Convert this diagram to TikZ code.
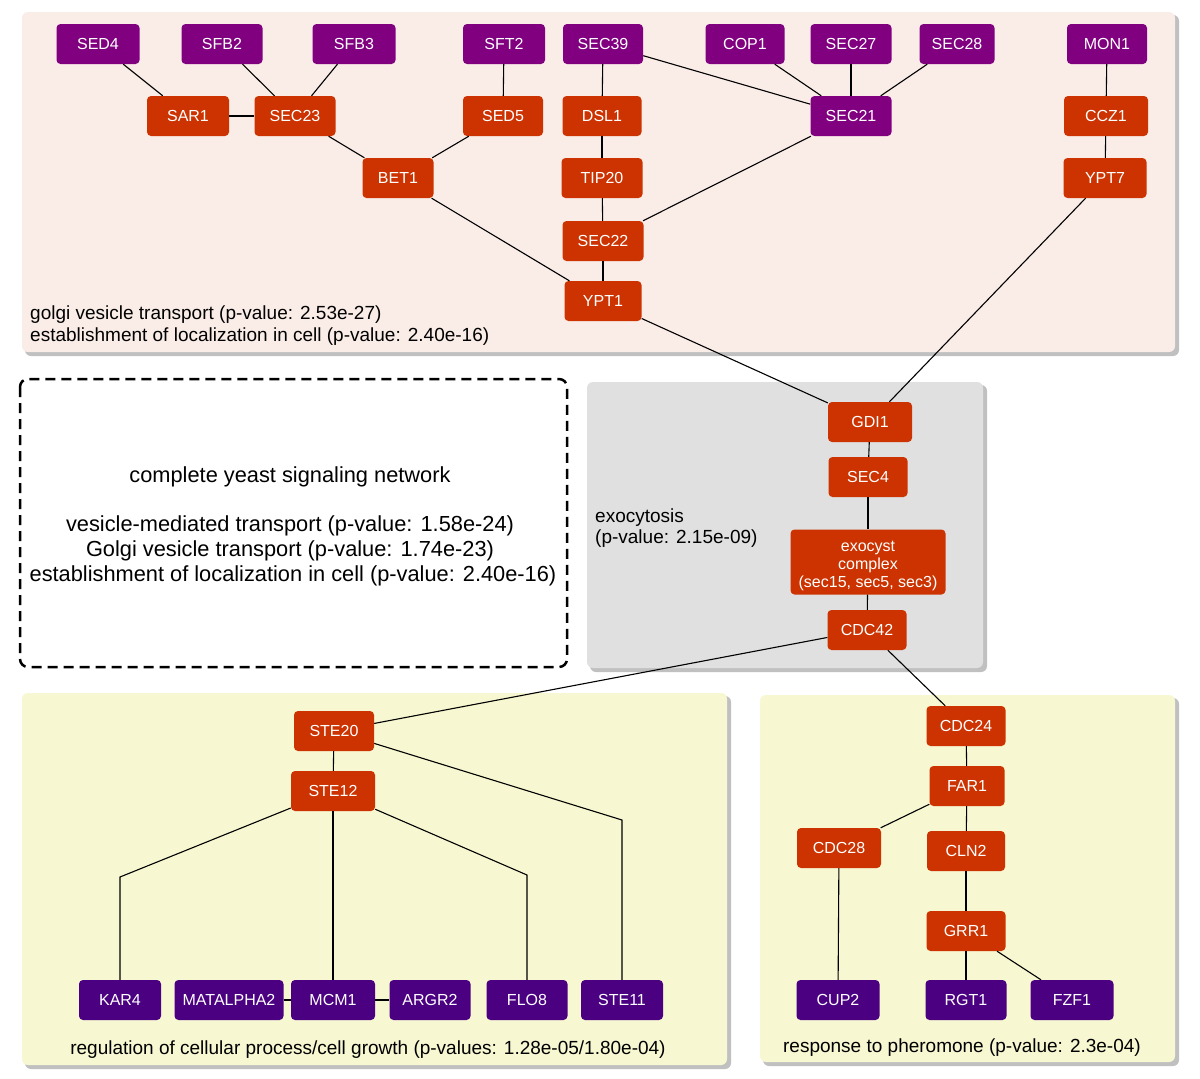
\documentclass[tikz,border=0pt]{standalone}
\usepackage{fontspec}
\setmainfont{Liberation Sans}
\definecolor{nodeor}{RGB}{204,51,0}
\definecolor{nodepu}{RGB}{128,0,128}
\definecolor{nodein}{RGB}{75,0,130}
\definecolor{panpink}{RGB}{250,237,231}
\definecolor{pangray}{RGB}{224,224,224}
\definecolor{panyel}{RGB}{247,247,209}
\definecolor{panshadow}{RGB}{192,192,192}
\tikzset{
 gnode/.style={rectangle, rounded corners=4pt, minimum height=40pt, inner sep=0pt, text=white, font=\fontsize{16}{18}\selectfont, align=center},
 onode/.style={gnode, fill=nodeor},
 pnode/.style={gnode, fill=nodepu},
 inode/.style={gnode, fill=nodein},
 edge/.style={draw=black, line width=1.1pt},
 ptext/.style={font=\fontsize{19}{22}\selectfont, inner sep=0pt, text=black},
 btext/.style={font=\fontsize{21.8}{25}\selectfont, inner sep=0pt, text=black},
}
\begin{document}
\begin{tikzpicture}[x=1pt,y=-1pt]
\useasboundingbox (0,0) rectangle (1200,1079);
\fill[white] (0,0) rectangle (1200,1079);
% panels
\fill[panshadow, rounded corners=6pt] (25,15) rectangle (1179,356);
\fill[panpink, rounded corners=6pt] (22,12) rectangle (1175,352);
\fill[panshadow, rounded corners=6pt] (590,385) rectangle (987,672);
\fill[pangray, rounded corners=6pt] (587,382) rectangle (983,668);
\fill[panshadow, rounded corners=6pt] (25,696) rectangle (731,1069);
\fill[panyel, rounded corners=6pt] (22,693) rectangle (727,1065);
\fill[panshadow, rounded corners=6pt] (763,698) rectangle (1179,1066);
\fill[panyel, rounded corners=6pt] (760,695) rectangle (1175,1062);
\draw[line width=2.5pt, rounded corners=8pt, dash pattern=on 10pt off 6pt] (20,379) rectangle (567,667);
% panel texts
\node[ptext, anchor=base west] (t1) at (30,319) {golgi vesicle transport (p-value: 2.53e-27)};
\node[ptext, anchor=base west] (t2) at (30,341) {establishment of localization in cell (p-value: 2.40e-16)};
\node[ptext, anchor=base west] (t3) at (595,522) {exocytosis};
\node[ptext, anchor=base west] (t4) at (595,543) {(p-value: 2.15e-09)};
\node[ptext, anchor=base] (t5) at (368,1054) {regulation of cellular process/cell growth (p-values: 1.28e-05/1.80e-04)};
\node[ptext, anchor=base] (t6) at (962,1052) {response to pheromone (p-value: 2.3e-04)};
\node[btext, anchor=base] (b1) at (290,482) {complete yeast signaling network};
\node[btext, anchor=base] (b2) at (290,531) {vesicle-mediated transport (p-value: 1.58e-24)};
\node[btext, anchor=base] (b3) at (290,556) {Golgi vesicle transport (p-value: 1.74e-23)};
\node[btext, anchor=base] (b4) at (293,581) {establishment of localization in cell (p-value: 2.40e-16)};
% top row
\node[pnode, minimum width=83] (SED4) at (98,44) {SED4};
\node[pnode, minimum width=81] (SFB2) at (222,44) {SFB2};
\node[pnode, minimum width=83] (SFB3) at (354,44) {SFB3};
\node[pnode, minimum width=82] (SFT2) at (504,44) {SFT2};
\node[pnode, minimum width=80] (SEC39) at (603,44) {SEC39};
\node[pnode, minimum width=79] (COP1) at (745,44) {COP1};
\node[pnode, minimum width=81] (SEC27) at (851,44) {SEC27};
\node[pnode, minimum width=75] (SEC28) at (957,44) {SEC28};
\node[pnode, minimum width=80] (MON1) at (1107,44) {MON1};
\node[onode, minimum width=82] (SAR1) at (188,116) {SAR1};
\node[onode, minimum width=81] (SEC23) at (295,116) {SEC23};
\node[onode, minimum width=80] (SED5) at (503,116) {SED5};
\node[onode, minimum width=79] (DSL1) at (602,116) {DSL1};
\node[pnode, minimum width=81] (SEC21) at (851,116) {SEC21};
\node[onode, minimum width=84] (CCZ1) at (1106,116) {CCZ1};
\node[onode, minimum width=71] (BET1) at (398,178) {BET1};
\node[onode, minimum width=81] (TIP20) at (602,178) {TIP20};
\node[onode, minimum width=83] (YPT7) at (1105,178) {YPT7};
\node[onode, minimum width=81] (SEC22) at (603,241) {SEC22};
\node[onode, minimum width=77] (YPT1) at (603,301) {YPT1};
% exocytosis
\node[onode, minimum width=84] (GDI1) at (870,422) {GDI1};
\node[onode, minimum width=79] (SEC4) at (868,477) {SEC4};
\node[onode, minimum width=155, minimum height=65] (EXO) at (868,562) {\rule{0pt}{18pt}exocyst\\complex\\(sec15, sec5, sec3)};
\node[onode, minimum width=79] (CDC42) at (867,630) {CDC42};
% bottom left
\node[onode, minimum width=80] (STE20) at (334,731) {STE20};
\node[onode, minimum width=84] (STE12) at (333,791) {STE12};
\node[inode, minimum width=82] (KAR4) at (120,1000) {KAR4};
\node[inode, minimum width=109] (MATALPHA2) at (229,1000) {MATALPHA2};
\node[inode, minimum width=84] (MCM1) at (333,1000) {MCM1};
\node[inode, minimum width=81] (ARGR2) at (430,1000) {ARGR2};
\node[inode, minimum width=81] (FLO8) at (527,1000) {FLO8};
\node[inode, minimum width=82] (STE11) at (622,1000) {STE11};
\coordinate (kb) at (120,877);
\coordinate (fb) at (527,875);
\coordinate (sb) at (622,820);
% bottom right
\node[onode, minimum width=79] (CDC24) at (966,726) {CDC24};
\node[onode, minimum width=75] (FAR1) at (967,786) {FAR1};
\node[onode, minimum width=84] (CDC28) at (839,848) {CDC28};
\node[onode, minimum width=78] (CLN2) at (966,851) {CLN2};
\node[onode, minimum width=79] (GRR1) at (966,931) {GRR1};
\node[inode, minimum width=83] (CUP2) at (838,1000) {CUP2};
\node[inode, minimum width=81] (RGT1) at (966,1000) {RGT1};
\node[inode, minimum width=83] (FZF1) at (1072,1000) {FZF1};
% edges
\draw[edge] (SED4) -- (SAR1);
\draw[edge] (SFB2) -- (SEC23);
\draw[edge] (SFB3) -- (SEC23);
\draw[edge] (SAR1) -- (SEC23);
\draw[edge] (SEC23) -- (BET1);
\draw[edge] (SFT2) -- (SED5);
\draw[edge] (SED5) -- (BET1);
\draw[edge] (BET1) -- (YPT1);
\draw[edge] (SEC39) -- (DSL1);
\draw[edge] (DSL1) -- (TIP20);
\draw[edge] (TIP20) -- (SEC22);
\draw[edge] (SEC22) -- (YPT1);
\draw[edge] (SEC39) -- (SEC21);
\draw[edge] (COP1) -- (SEC21);
\draw[edge] (SEC27) -- (SEC21);
\draw[edge] (SEC28) -- (SEC21);
\draw[edge] (SEC21) -- (SEC22);
\draw[edge] (MON1) -- (CCZ1);
\draw[edge] (CCZ1) -- (YPT7);
\draw[edge] (YPT1) -- (GDI1);
\draw[edge] (YPT7) -- (GDI1);
\draw[edge] (GDI1) -- (SEC4);
\draw[edge] (SEC4) -- (EXO);
\draw[edge] (EXO) -- (CDC42);
\draw[edge] (CDC42) -- (STE20);
\draw[edge] (CDC42) -- (CDC24);
\draw[edge] (STE20) -- (STE12);
\draw[edge] (STE12) -- (kb) -- (KAR4);
\draw[edge] (STE12) -- (MCM1);
\draw[edge] (STE12) -- (fb) -- (FLO8);
\draw[edge] (STE20) -- (sb) -- (STE11);
\draw[edge] (MATALPHA2) -- (MCM1);
\draw[edge] (MCM1) -- (ARGR2);
\draw[edge] (CDC24) -- (FAR1);
\draw[edge] (FAR1) -- (CDC28);
\draw[edge] (FAR1) -- (CLN2);
\draw[edge] (CLN2) -- (GRR1);
\draw[edge] (CDC28) -- (CUP2);
\draw[edge] (GRR1) -- (RGT1);
\draw[edge] (GRR1) -- (FZF1);
\end{tikzpicture}
\end{document}
